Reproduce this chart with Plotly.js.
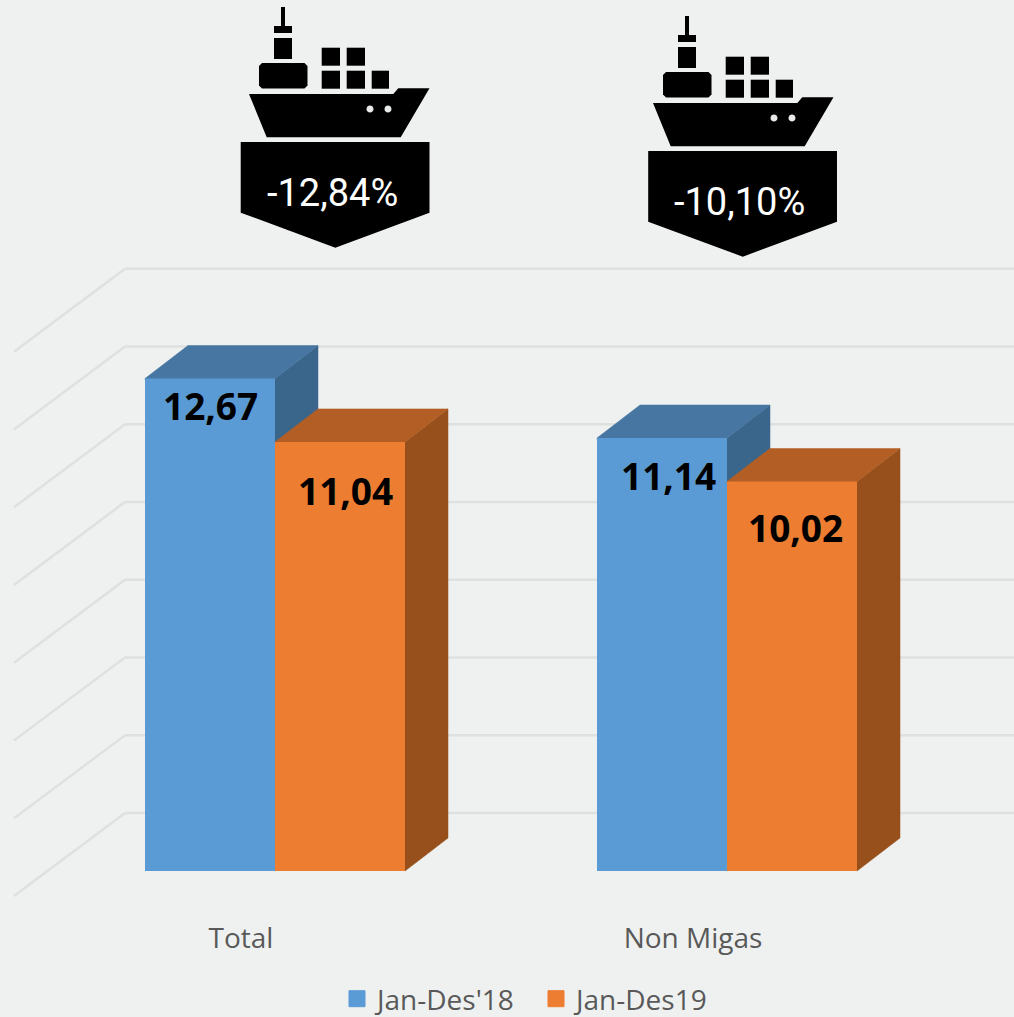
<!DOCTYPE html>
<html>
<head>
<meta charset="utf-8">
<script src="https://cdn.plot.ly/plotly-3.0.1.min.js"></script>
<style>html,body{margin:0;padding:0;background:#eff1f0;overflow:hidden;height:1017px}</style>
</head>
<body>
<div id="chart" style="width:1014px;height:1017px;overflow:hidden"></div>
<script>
// ---------- data ----------
const categories = ["Total", "Non Migas"];
const series18 = [12.67, 11.14];
const series19 = [11.04, 10.02];
const seriesNames = ["Jan-Des'18", "Jan-Des19"];
const changes = ["-12,84%", "-10,10%"];
const gridValues = [0, 2, 4, 6, 8, 10, 12, 14];

// ---------- geometry ----------
// The reference's legend hugs the bottom edge, closer than Plotly's legend box allows,
// so the figure runs a little past the window, which trims it at 1017.
const W = 1014, H = 1050, axisPx = 919;
const zeroPx = 871, pxPerUnit = 38.87;      // y scale
const groupPx = [275, 727], spacing = 452;  // x scale: category 0 and 1
const barPx = 130, depthX = 43, depthY = 33;
const C = {bg:"#eff1f0", grid:"#dfe1e0", blue:"#5b9bd5", blueTop:"#4676a1", blueSide:"#3b668c",
           orange:"#ed7d31", orangeTop:"#b25e24", orangeSide:"#974f1b", tick:"#595959"};

const xFromPx = p => (p - groupPx[0]) / spacing;
const dx = px => px / spacing;
const dy = px => px / pxPerUnit;
const xs = categories.map((_, i) => i);
const barW = dx(barPx), dX = dx(depthX), dY = dy(depthY);

function face(xArr, yArr, color, z) {
  return {type:"scatter", mode:"lines", x:xArr, y:yArr, fill:"toself", fillcolor:color,
          line:{width:0.5, color:color}, hoverinfo:"skip", showlegend:false, zorder:z};
}
const traces = [];
function addSeries(values, offset, name, front, top, side, z) {
  const tuck = dy(1.5); // top face runs slightly under the front so nothing shows through the seam
  values.forEach((v, i) => {
    const xL = xs[i] + offset, xR = xL + barW;
    traces.push(face([xR, xR, xR + dX, xR + dX, xR], [0, v, v + dY, dY, 0], side, z));
    traces.push(face([xL, xL, xL + dX, xR + dX, xR, xR, xL], [v - tuck, v, v + dY, v + dY, v, v - tuck, v - tuck], top, z));
  });
  traces.push({type:"bar", name:name, x:xs, y:values, width:barW, offset:offset,
               marker:{color:front}, hoverinfo:"skip", zorder:z + 1, showlegend:false});
  // legend key: Plotly's bar swatch is fixed at 12 px, a square marker entry can be larger
  traces.push({type:"scatter", mode:"markers", name:name, x:[null], y:[null], hoverinfo:"skip",
               marker:{symbol:"square", size:16, color:front, line:{width:1, color:front}}});
}
addSeries(series18, -barW, seriesNames[0], C.blue, C.blueTop, C.blueSide, 1);
addSeries(series19, 0, seriesNames[1], C.orange, C.orangeTop, C.orangeSide, 3);

// ---------- back wall + side wall grid ----------
const backX = xFromPx(125), frontX = xFromPx(14), endX = xFromPx(W);
const backLift = dy(58), frontDrop = dy(25);
const shapes = [];
gridValues.forEach(g => {
  const line = (x0, y0, x1, y1) => ({type:"line", xref:"x", yref:"y", x0, y0, x1, y1, layer:"below",
                                     line:{color:C.grid, width:2.5}});
  shapes.push(line(backX, g + backLift, endX, g + backLift));
  shapes.push(line(frontX, g - frontDrop, backX, g + backLift));
});

// ---------- ship / arrow decorations (page pixels) ----------
const P = (x, y) => (x / W).toFixed(5) + "," + (1 - y / H).toFixed(5);
function poly(points, ox, oy) {
  return "M" + points.map(p => P(p[0] + ox, p[1] + oy)).join("L") + "Z";
}
function rect(x0, y0, x1, y1) { return [[x0,y0],[x1,y0],[x1,y1],[x0,y1]]; }
function roundRect(x0, y0, x1, y1) {
  const r = 3;
  return [[x0+r,y0],[x1-r,y0],[x1,y0+r],[x1,y1-r],[x1-r,y1],[x0+r,y1],[x0,y1-r],[x0,y0+r]];
}
const shipParts = [
  rect(281, 7, 285, 27), rect(274, 26, 292, 33), rect(274, 38, 292, 59),
  roundRect(259, 63, 307.5, 88.5),
  rect(321.7, 47.7, 340, 65.7), rect(346.7, 47.7, 365, 65.7),
  rect(321.7, 70.7, 340, 88.7), rect(346.7, 70.7, 365, 88.7), rect(371.7, 70.7, 389, 88.7),
  [[249,94],[393.3,94],[398.3,88.3],[429.5,88.3],[400.7,137.3],[266.7,137.3]]
];
const arrow = [[240.7,142],[429.5,142],[429.5,212.7],[335.3,247.7],[240.7,212.7]];
const portholes = [[370, 109], [388, 109]];
const shipOffsets = [[0,0],[404,9]], arrowOffsets = [[0,0],[407.5,9]];
const annotations = [];
function paperShape(path, color) {
  return {type:"path", xref:"paper", yref:"paper", path, fillcolor:color, line:{width:0}, layer:"above"};
}
changes.forEach((txt, i) => {
  const [sx, sy] = shipOffsets[i], [ax, ay] = arrowOffsets[i];
  shipParts.forEach(p => shapes.push(paperShape(poly(p, sx, sy), "#000000")));
  portholes.forEach(c => {
    const r = 3.5;
    const pts = [];
    for (let a = 0; a < 16; a++) pts.push([c[0] + r*Math.cos(a*Math.PI/8), c[1] + r*Math.sin(a*Math.PI/8)]);
    shapes.push(paperShape(poly(pts, sx, sy), "#e8eaea"));
  });
  shapes.push(paperShape(poly(arrow, ax, ay), "#000000"));
  annotations.push({xref:"paper", yref:"paper", x:(332 + ax) / W, y:1 - (193 + ay) / H,
    text:txt, showarrow:false, xanchor:"center", yanchor:"middle",
    font:{family:"Roboto,sans-serif", size:38, weight:400, color:"#ffffff"}});
});

// ---------- value labels ----------
const labelOffsets18 = [[0.5,-27],[6.5,-38]];
const labelOffsets19 = [[5.5,-49],[3,-46]];
const fmt = v => v.toFixed(2).replace(".", ",");
function addLabels(values, barOffset, offsets) {
  values.forEach((v, i) => annotations.push({xref:"x", yref:"y", x:xs[i] + barOffset + barW/2, y:v,
    xshift:offsets[i][0], yshift:offsets[i][1], text:"<b>" + fmt(v) + "</b>", showarrow:false,
    xanchor:"center", yanchor:"middle", font:{family:"'Open Sans',sans-serif", size:37, color:"#000000"}}));
}
addLabels(series18, -barW, labelOffsets18);
addLabels(series19, 0, labelOffsets19);

const layout = {
  width:W, height:H, margin:{l:0, r:0, t:0, b:0, pad:0},
  paper_bgcolor:C.bg, plot_bgcolor:C.bg, barmode:"overlay",
  font:{family:"'Open Sans',sans-serif", color:C.tick},
  xaxis:{range:[xFromPx(0), xFromPx(W)], tickvals:xs.map(i => i + xFromPx(241)), ticktext:categories,
         anchor:"free", position:1 - axisPx / H,
         tickfont:{size:28, color:C.tick}, showgrid:false, zeroline:false, showline:false, ticks:"", fixedrange:true},
  yaxis:{range:[(zeroPx - H) / pxPerUnit, zeroPx / pxPerUnit], showgrid:false, zeroline:false,
         showticklabels:false, ticks:"", fixedrange:true},
  legend:{orientation:"h", x:337/W, xanchor:"left", y:(H - 974)/H, yanchor:"top",
          font:{size:28, color:C.tick}, itemwidth:30, traceorder:"normal", bgcolor:"rgba(0,0,0,0)",
          entrywidth:154, entrywidthmode:"pixels"},
  shapes, annotations, showlegend:true
};
Plotly.newPlot("chart", traces, layout, {displayModeBar:false, staticPlot:true});
</script>
</body>
</html>
